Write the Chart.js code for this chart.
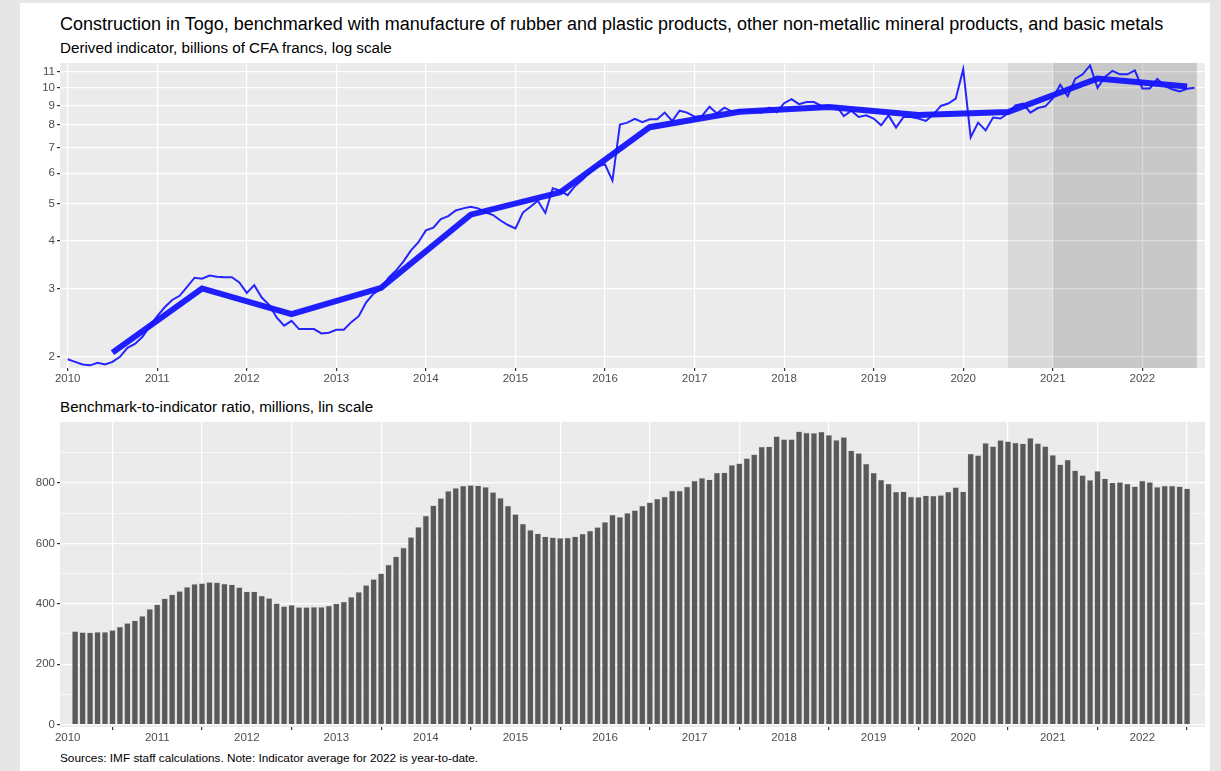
<!DOCTYPE html>
<html>
<head>
<meta charset="utf-8">
<script src="https://cdn.jsdelivr.net/npm/chart.js@4.4.0/dist/chart.umd.min.js"></script>
<style>
  body { margin: 0; width: 1221px; height: 771px; overflow: hidden; background: #e6e6e6;
         font-family: "Liberation Sans", Arial, sans-serif; }
  #card { position: absolute; left: 20px; top: 3px; width: 1190px; height: 780px; background: #fff; }
  .txt { position: absolute; left: 60px; white-space: nowrap; color: #000; }
  canvas { position: absolute; }
</style>
</head>
<body>
<div id="card"></div>
<div class="txt" style="top:14px;font-size:18px;">Construction in Togo, benchmarked with manufacture of rubber and plastic products, other non-metallic mineral products, and basic metals</div>
<div class="txt" style="top:39px;font-size:15.2px;">Derived indicator, billions of CFA francs, log scale</div>
<div class="txt" style="top:398px;font-size:15.2px;">Benchmark-to-indicator ratio, millions, lin scale</div>
<div class="txt" style="top:751px;font-size:11.8px;">Sources: IMF staff calculations. Note: Indicator average for 2022 is year-to-date.</div>
<canvas id="top" width="1190" height="328" style="left:20px;top:60px;"></canvas>
<canvas id="bottom" width="1190" height="328" style="left:20px;top:419px;"></canvas>
<script>
// monthly derived indicator, Jan 2010 .. Aug 2022 (billions of CFA francs)
const indicatorMonthly = [
  1.97, 1.94, 1.91, 1.90, 1.93, 1.91, 1.94, 2.00, 2.11, 2.16, 2.25, 2.40,
  2.55, 2.69, 2.81, 2.88, 3.04, 3.21, 3.19, 3.25, 3.23, 3.22, 3.22, 3.12,
  2.93, 3.07, 2.85, 2.73, 2.53, 2.41, 2.48, 2.36, 2.36, 2.36, 2.30, 2.31,
  2.35, 2.35, 2.46, 2.55, 2.77, 2.92, 3.00, 3.21, 3.35, 3.54, 3.78, 3.97,
  4.26, 4.33, 4.56, 4.64, 4.80, 4.86, 4.91, 4.86, 4.75, 4.67, 4.52, 4.40,
  4.31, 4.74, 4.91, 5.09, 4.73, 5.48, 5.40, 5.26, 5.56, 5.78, 6.03, 6.26,
  6.32, 5.74, 8.03, 8.12, 8.31, 8.14, 8.28, 8.28, 8.62, 8.20, 8.72, 8.62,
  8.41, 8.45, 8.93, 8.58, 8.88, 8.67, 8.72, 8.75, 8.69, 8.62, 8.88, 8.64,
  9.12, 9.34, 9.07, 9.18, 9.18, 8.97, 8.95, 8.97, 8.44, 8.72, 8.40, 8.48,
  8.32, 7.99, 8.48, 7.88, 8.40, 8.40, 8.32, 8.20, 8.52, 8.97, 9.10, 9.37,
  11.18, 7.44, 8.12, 7.75, 8.37, 8.32, 8.59, 9.00, 9.10, 8.62, 8.86, 8.95,
  9.39, 10.19, 9.51, 10.54, 10.84, 11.43, 10.00, 10.67, 11.07, 10.84, 10.84, 11.10,
  9.96, 9.96, 10.54, 10.12, 9.91, 9.78, 9.94, 10.00
];

// annual averages, plotted at mid-year
const annualYears = [2010, 2011, 2012, 2013, 2014, 2015, 2016, 2017, 2018, 2019, 2020, 2021, 2022];
const annualValues = [2.05, 3.01, 2.58, 3.02, 4.68, 5.35, 7.90, 8.66, 8.92, 8.50, 8.65, 10.57, 10.08];

// benchmark-to-indicator ratio, Feb 2010 .. Jul 2022 (millions)
const ratioMonthly = [
  309, 306, 305, 307, 307, 313, 324, 336, 345, 360, 383,
  398, 418, 431, 442, 456, 466, 468, 472, 471, 467, 464, 455,
  441, 441, 427, 419, 402, 392, 396, 389, 389, 390, 390, 394,
  401, 407, 423, 439, 462, 482, 501, 530, 557, 586, 621, 655,
  692, 726, 750, 774, 784, 791, 793, 792, 787, 770, 751, 725,
  697, 665, 645, 633, 623, 620, 618, 619, 623, 632, 642, 654,
  671, 695, 688, 701, 710, 725, 736, 748, 755, 775, 775, 788,
  808, 817, 812, 834, 835, 860, 865, 882, 895, 920, 921, 955,
  945, 945, 971, 967, 966, 970, 959, 943, 952, 908, 899, 864,
  834, 811, 798, 771, 772, 755, 754, 759, 758, 760, 771, 786,
  772, 897, 892, 933, 922, 942, 938, 934, 931, 949, 932, 922,
  893, 862, 877, 842, 826, 810, 840, 815, 802, 803, 798, 789,
  808, 803, 787, 791, 791, 789, 782
];

const yearTicks = [2010, 2011, 2012, 2013, 2014, 2015, 2016, 2017, 2018, 2019, 2020, 2021, 2022];
const logTicks = [2, 3, 4, 5, 6, 7, 8, 9, 10, 11];
const ratioTicks = [0, 100, 200, 300, 400, 500, 600, 700, 800, 900];
// shaded periods (start, end) in years
const shadeSpans = [[2020.5, 2022.61], [2021.0, 2022.61]];

const tickFont = { family: '"Liberation Sans", Arial, sans-serif', size: 11.5 };
const xMin = 2009.914, xMax = 2022.70;

const panelBg = {
  id: 'panelBg',
  beforeDraw(chart) {
    const a = chart.chartArea, ctx = chart.ctx;
    ctx.save();
    ctx.fillStyle = '#ebebeb';
    ctx.fillRect(a.left, a.top, a.right - a.left, a.bottom - a.top);
    ctx.restore();
  }
};

const shading = {
  id: 'shading',
  beforeDatasetsDraw(chart) {
    const a = chart.chartArea, ctx = chart.ctx, x = chart.scales.x;
    ctx.save();
    ctx.fillStyle = 'rgba(0,0,0,0.075)';
    shadeSpans.forEach(function (s) {
      const x0 = x.getPixelForValue(s[0]);
      const x1 = x.getPixelForValue(s[1]);
      ctx.fillRect(x0, a.top, x1 - x0, a.bottom - a.top);
    });
    ctx.restore();
  }
};

function noPad(s) {
  s.paddingTop = 0; s.paddingBottom = 0; s.paddingLeft = 0; s.paddingRight = 0;
}

function xAxis() {
  return {
    type: 'linear', min: xMin, max: xMax,
    afterBuildTicks: function (s) { s.ticks = yearTicks.map(v => ({ value: v })); },
    afterFit: function (s) { s.height = 20; noPad(s); },
    ticks: { color: '#4d4d4d', font: tickFont, padding: 1, maxRotation: 0,
             callback: v => String(v) },
    grid: { color: '#ffffff', lineWidth: 1.2, tickColor: '#333333', tickLength: 3 },
    border: { display: false }
  };
}

const monthPoints = indicatorMonthly.map((v, i) => ({ x: 2010 + i / 12, y: v }));
const annualPoints = annualValues.map((v, i) => ({ x: annualYears[i] + 0.5, y: v }));
const ratioPoints = ratioMonthly.map((v, i) => ({ x: 2010 + (i + 1) / 12, y: v }));

new Chart(document.getElementById('top').getContext('2d'), {
  type: 'line',
  data: {
    datasets: [
      { data: annualPoints, borderColor: 'rgba(20,20,255,0.95)', borderWidth: 6,
        pointRadius: 0, borderCapStyle: 'butt', tension: 0 },
      { data: monthPoints, borderColor: 'rgba(20,20,255,0.92)', borderWidth: 2,
        pointRadius: 0, tension: 0 }
    ]
  },
  options: {
    responsive: false, animation: false,
    layout: { padding: { top: 3, right: 5, left: 0, bottom: 0 } },
    plugins: { legend: { display: false }, tooltip: { enabled: false } },
    scales: {
      x: xAxis(),
      y: {
        type: 'logarithmic', min: 1.87, max: 11.6,
        afterBuildTicks: function (s) { s.ticks = logTicks.map(v => ({ value: v })); },
        afterFit: function (s) { s.width = 40; noPad(s); },
        ticks: { color: '#4d4d4d', font: tickFont, padding: 2, callback: v => String(v) },
        grid: { color: '#ffffff', lineWidth: 1.2, tickColor: '#333333', tickLength: 3 },
        border: { display: false }
      }
    }
  },
  plugins: [panelBg, shading]
});

new Chart(document.getElementById('bottom').getContext('2d'), {
  type: 'bar',
  data: {
    datasets: [
      { data: ratioPoints, backgroundColor: '#595959', borderColor: '#c8c8c8',
        borderWidth: { left: 0.6, right: 0.6, top: 0.6, bottom: 0 },
        barPercentage: 0.86, categoryPercentage: 1.0 }
    ]
  },
  options: {
    responsive: false, animation: false,
    layout: { padding: { top: 3, right: 5, left: 0, bottom: 0 } },
    plugins: { legend: { display: false }, tooltip: { enabled: false } },
    scales: {
      x: Object.assign(xAxis(), { offset: false }),
      y: {
        type: 'linear', min: -8, max: 1002,
        afterBuildTicks: function (s) { s.ticks = ratioTicks.map(v => ({ value: v })); },
        afterFit: function (s) { s.width = 40; noPad(s); },
        ticks: { color: '#4d4d4d', font: tickFont, padding: 2,
                 callback: v => (v % 200 === 0 ? String(v) : '') },
        grid: {
          color: '#ffffff',
          lineWidth: ctx => (ctx.tick && ctx.tick.value % 200 === 0 ? 1.2 : 0.6),
          tickColor: ctx => (ctx.tick && ctx.tick.value % 200 === 0 ? '#333333' : 'rgba(0,0,0,0)'),
          tickLength: 3
        },
        border: { display: false }
      }
    }
  },
  plugins: [panelBg]
});
</script>
</body>
</html>
